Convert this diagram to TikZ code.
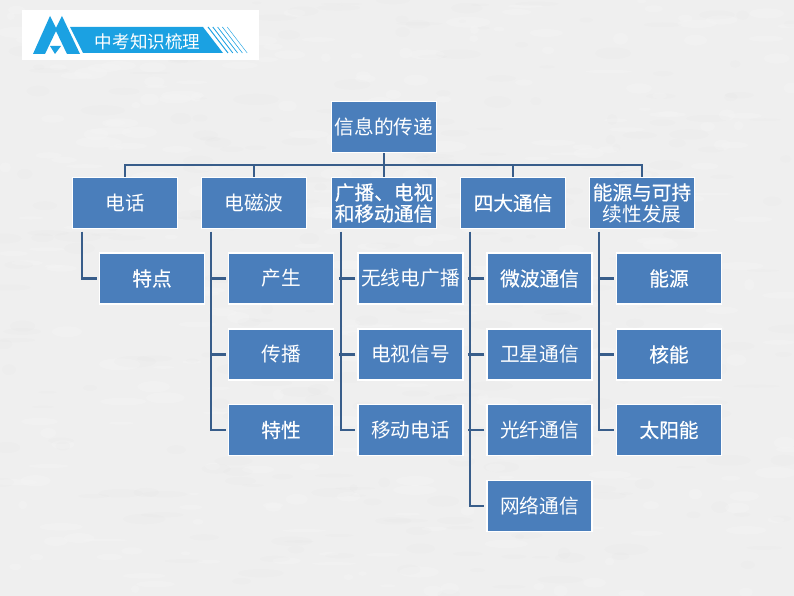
\documentclass[tikz,border=0pt]{standalone}
\usepackage{fontspec}
\setmainfont{Noto Sans CJK SC}
\newfontfamily\semibd[FakeBold=0.45]{Noto Sans CJK SC}
\usetikzlibrary{positioning}
\definecolor{boxBlue}{RGB}{ 74,126,187}
\definecolor{lineBlue}{RGB}{ 56, 93,138}
\definecolor{logoBlue}{RGB}{ 27,161,226}
\definecolor{paper}{RGB}{239,239,239}

\begin{document}
\begin{tikzpicture}[
  bx/.style={rectangle, fill=boxBlue, draw=white, line width=0.9pt, minimum width=2.62cm,
             minimum height=1.28cm, inner sep=0pt, align=center, text=white,
             font=\fontsize{14}{15}\selectfont},
  bb/.style={bx, font=\fontsize{14}{15}\selectfont\semibd},
  e/.style={draw=lineBlue, line width=1.6pt},
]
\useasboundingbox (0,0) rectangle (19.85,14.9);
\fill[paper] (0,0) rectangle (19.85,14.9);

% mottled paper
\pgfmathsetseed{7}
\foreach \i in {1,...,600} {
  \pgfmathsetmacro{\px}{rnd*19.85}
  \pgfmathsetmacro{\py}{rnd*14.9}
  \pgfmathsetmacro{\rx}{0.1+rnd*0.5}
  \pgfmathsetmacro{\ry}{0.03+rnd*0.12}
  \pgfmathtruncatemacro{\pick}{mod(\i,2)}
  \ifnum\pick=0
    \fill[white, opacity=0.14] (\px,\py) ellipse ({\rx} and {\ry});
  \else
    \fill[black, opacity=0.008] (\px,\py) ellipse ({\rx} and {\ry});
  \fi
}

% ============ logo ============
\fill[white] (0.55,13.4) rectangle (6.475,14.65);
\fill[logoBlue] (0.825,13.55) -- (1.25,14.5) -- (1.4,14.2) -- (1.55,14.5) -- (2.0,13.55)
  -- (1.675,13.55) -- (1.4,14.125) -- (1.125,13.55) -- cycle;
\fill[logoBlue] (1.25,13.75) -- (1.525,13.75) -- (1.375,13.55) -- cycle;
\fill[logoBlue] (1.75,14.225) -- (5.075,14.225) -- (5.575,13.575) -- (2.075,13.575) -- cycle;
\draw[logoBlue, line width=0.7pt] (5.2,14.225) -- (5.7,13.575);
\draw[logoBlue, line width=0.6pt] (5.32,14.225) -- (5.82,13.575);
\draw[logoBlue, line width=0.5pt] (5.44,14.225) -- (5.94,13.575);
\draw[logoBlue, line width=0.4pt] (5.56,14.225) -- (6.06,13.575);
\draw[logoBlue, line width=0.3pt] (5.68,14.225) -- (6.18,13.575);
\node[text=white, font=\fontsize{12.5}{13}\selectfont] (logo) at (3.69,13.85) {中考知识梳理};

% ============ connectors ============
\coordinate (bus) at (9.6,10.775);
\coordinate (c1t) at (3.125,10.4);
\coordinate (c2t) at (6.35,10.4);
\coordinate (c3t) at (9.6,10.4);
\coordinate (c4t) at (12.825,10.4);
\coordinate (c5t) at (16.05,10.4);
\draw[e] (9.6,11.1) -- (bus);
\draw[e] (bus) -| (c1t) (bus) -| (c2t) (bus) -- (c3t) (bus) -| (c4t) (bus) -| (c5t);

% ============ top and first row ============
\node[bx] (top) at (9.6,11.725) {信息的传递};
\node[bx] (c1) at (3.125,9.825) {电话};
\node[bx] (c2) at (6.35,9.825) {电磁波};
\node[bb] (c3) at (9.6,9.825) {广播、电视\\和移动通信};
\node[bb] (c4) at (12.825,9.825) {四大通信};
\node[bx] (c5) at (16.05,9.825) {{\semibd 能源与可持}\\续性发展};

% ============ second level ============
\node[bb] (c1a) at (3.8,7.9375) {特点};

\node[bx] (c2a) at (7.025,7.9375) {产生};
\node[bx] (c2b) at (7.025,6.0375) {传播};
\node[bb] (c2c) at (7.025,4.15) {特性};

\node[bx] (c3a) at (10.2625,7.9375) {无线电广播};
\node[bx] (c3b) at (10.2625,6.0375) {电视信号};
\node[bx] (c3c) at (10.2625,4.15) {移动电话};

\node[bb] (c4a) at (13.4875,7.9375) {微波通信};
\node[bx] (c4b) at (13.4875,6.0375) {卫星通信};
\node[bx] (c4c) at (13.4875,4.15) {光纤通信};
\node[bx] (c4d) at (13.4875,2.25) {网络通信};

\node[bb] (c5a) at (16.725,7.9375) {能源};
\node[bb] (c5b) at (16.725,6.0375) {核能};
\node[bb] (c5c) at (16.725,4.15) {太阳能};

% trunks start just under the parent box and stop short of the child
\draw[e] ([xshift=0.26cm,yshift=-0.06cm]c1.south west) |- ([xshift=-0.05cm]c1a.west);
\draw[e] ([xshift=0.26cm,yshift=-0.06cm]c2.south west) |- ([xshift=-0.05cm]c2c.west);
\draw[e] ([xshift=0.26cm,yshift=-0.06cm]c3.south west) |- ([xshift=-0.05cm]c3c.west);
\draw[e] ([xshift=0.26cm,yshift=-0.06cm]c4.south west) |- ([xshift=-0.05cm]c4d.west);
\draw[e] ([xshift=0.26cm,yshift=-0.06cm]c5.south west) |- ([xshift=-0.05cm]c5c.west);

\draw[e] ([xshift=-0.05cm]c2a.west) -- ++(-0.4,0) ([xshift=-0.05cm]c2b.west) -- ++(-0.4,0);
\draw[e] ([xshift=-0.05cm]c3a.west) -- ++(-0.4,0) ([xshift=-0.05cm]c3b.west) -- ++(-0.4,0);
\draw[e] ([xshift=-0.05cm]c4a.west) -- ++(-0.4,0) ([xshift=-0.05cm]c4b.west) -- ++(-0.4,0)
         ([xshift=-0.05cm]c4c.west) -- ++(-0.4,0);
\draw[e] ([xshift=-0.05cm]c5a.west) -- ++(-0.4,0) ([xshift=-0.05cm]c5b.west) -- ++(-0.4,0);
\end{tikzpicture}
\end{document}
